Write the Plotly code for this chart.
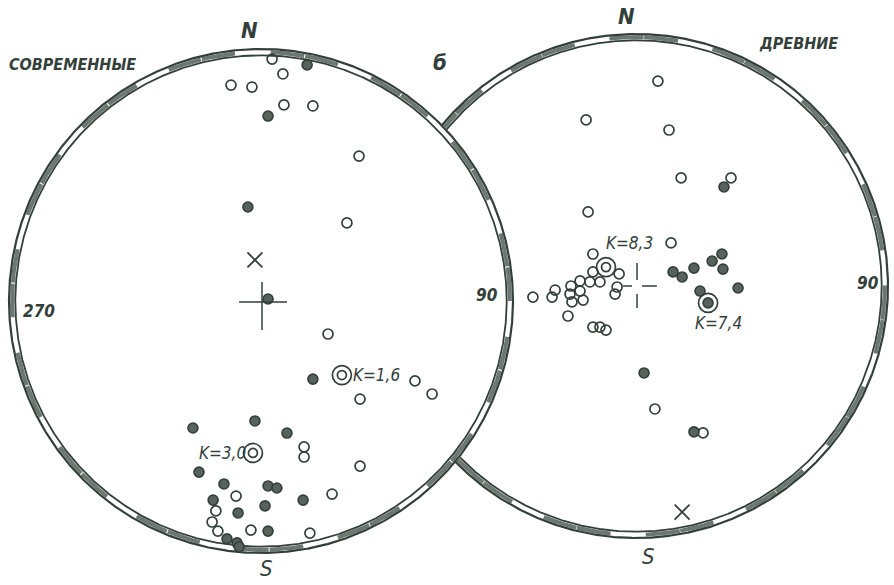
import numpy as np
import plotly.graph_objects as go

# ---------------------------------------------------------------------------
# Poles on two equal-area nets (unit radius = net primitive circle).
# "Modern" net on the left, "ancient" net on the right.
# ---------------------------------------------------------------------------

# Modern net: open circles (upper hemisphere)
modern_open_x = [0.044, 0.087, -0.119, -0.036, 0.091, 0.206, 0.389, 0.341,
                 0.266, 0.611, 0.679, 0.393, 0.171, 0.171, 0.393, -0.099,
                 0.282, -0.179, -0.194, -0.171, -0.040, 0.194]
modern_open_y = [0.960, 0.901, 0.857, 0.849, 0.778, 0.774, 0.575, 0.310,
                 -0.131, -0.317, -0.369, -0.389, -0.579, -0.619, -0.655, -0.774,
                 -0.766, -0.833, -0.877, -0.913, -0.909, -0.921]

# Modern net: filled circles (lower hemisphere)
modern_fill_x = [0.183, 0.028, -0.052, 0.028, 0.206, -0.024, -0.270, 0.103,
                 -0.246, -0.147, 0.028, 0.063, -0.190, 0.167, -0.091, 0.016,
                 0.028, -0.135, -0.095, -0.087]
modern_fill_y = [0.937, 0.734, 0.373, 0.008, -0.310, -0.476, -0.504, -0.524,
                 -0.679, -0.726, -0.734, -0.742, -0.790, -0.790, -0.841, -0.813,
                 -0.913, -0.944, -0.960, -0.975]

# Ancient net: open circles
ancient_open_x = [0.087, -0.198, 0.131, 0.179, 0.377, -0.190, 0.139,
                  -0.171, -0.171, -0.067, -0.143, -0.183, -0.222, -0.258, -0.222,
                  -0.262, -0.321, -0.333, -0.409, -0.254, -0.210, -0.270, -0.075,
                  -0.083, -0.171, -0.143, -0.119, 0.075, 0.266]
ancient_open_y = [0.813, 0.659, 0.619, 0.429, 0.429, 0.294, 0.171,
                  0.127, 0.056, 0.048, 0.016, 0.016, 0.020, 0.000, -0.020,
                  -0.032, -0.016, -0.044, -0.044, -0.063, -0.056, -0.119, -0.004,
                  -0.032, -0.163, -0.163, -0.175, -0.488, -0.583]

# Ancient net: filled circles
ancient_fill_x = [0.349, 0.147, 0.183, 0.230, 0.302, 0.341, 0.345, 0.405,
                  0.254, 0.032, 0.230]
ancient_fill_y = [0.393, 0.056, 0.036, 0.071, 0.099, 0.127, 0.067, -0.008,
                  -0.020, -0.345, -0.579]

# Mean directions with their precision parameter K
modern_mean_x = [0.321, -0.032]
modern_mean_y = [-0.294, -0.603]
modern_mean_k = ["1,6", "3,0"]
ancient_mean_x = [-0.119, 0.286]
ancient_mean_y = [0.075, -0.067]
ancient_mean_k = ["8,3", "7,4"]

# Reference direction (cross mark) on each net
modern_ref = (-0.024, 0.163)
ancient_ref = (0.183, -0.897)

# ---------------------------------------------------------------------------
INK = "#33403a"
HATCH = "#6b7770"
FONT = "Liberation Sans Narrow, DejaVu Sans Condensed, Liberation Sans, sans-serif"

W, H = 894, 585
PX = 252.0                     # pixels per net radius
C_LEFT = (261.0, 301.0)        # net centres in page pixels
C_RIGHT = (636.0, 286.0)
BOX_L, BOX_R = 260.0, 257.0

fig = go.Figure()


def rim(theta_deg, ax):
    """Double-lined primitive circle with alternating hatched segments."""
    t = np.radians(theta_deg)
    xa, ya = ("x", "y") if ax == 1 else ("x2", "y2")
    # hatched blocks between the two lines
    hx, hy = [], []
    seg = ((theta_deg - theta_deg[0]) // 8).astype(int)
    for k in np.unique(seg):
        if k % 3 != 2:
            m = seg == k
            hx += list(0.9875 * np.cos(t[m])) + [None]
            hy += list(0.9875 * np.sin(t[m])) + [None]
    fig.add_trace(go.Scatter(x=hx, y=hy, mode="lines",
                             line=dict(color=HATCH, width=4), xaxis=xa, yaxis=ya,
                             hoverinfo="skip", showlegend=False))
    for r, w in ((1.0, 2.2), (0.975, 1.8)):
        fig.add_trace(go.Scatter(x=r * np.cos(t), y=r * np.sin(t), mode="lines",
                                 line=dict(color=INK, width=w), xaxis=xa, yaxis=ya,
                                 hoverinfo="skip", showlegend=False))


# left net: full circle
rim(np.linspace(0, 360, 1441), 1)

# right net: only the arc lying outside the left net
off = np.array([(C_LEFT[0] - C_RIGHT[0]) / PX, (C_RIGHT[1] - C_LEFT[1]) / PX])
th = np.linspace(-180, 180, 2881)
tr = np.radians(th)
outside = np.hypot(np.cos(tr) - off[0], np.sin(tr) - off[1]) > 1.0
rim(th[outside], 2)


def pts(x, y, ax, filled, size=10):
    xa, ya = ("x", "y") if ax == 1 else ("x2", "y2")
    if filled:
        marker = dict(symbol="circle", size=size, color="#56625b",
                      line=dict(color=INK, width=1.6))
    else:
        marker = dict(symbol="circle-open", size=size, color=INK,
                      line=dict(color=INK, width=1.7))
    fig.add_trace(go.Scatter(x=x, y=y, mode="markers", marker=marker,
                             xaxis=xa, yaxis=ya, hoverinfo="skip", showlegend=False))


pts(modern_open_x, modern_open_y, 1, False)
pts(modern_fill_x, modern_fill_y, 1, True)
pts(ancient_open_x, ancient_open_y, 2, False)
pts(ancient_fill_x, ancient_fill_y, 2, True)

# mean directions: double circles
pts(modern_mean_x, modern_mean_y, 1, False, size=19)
pts(modern_mean_x, modern_mean_y, 1, False, size=9)
pts(ancient_mean_x, ancient_mean_y, 2, False, size=19)
pts(ancient_mean_x[:1], ancient_mean_y[:1], 2, False, size=9)
pts(ancient_mean_x[1:], ancient_mean_y[1:], 2, True, size=10)

# reference crosses
for (rx, ry), xa, ya in ((modern_ref, "x", "y"), (ancient_ref, "x2", "y2")):
    fig.add_trace(go.Scatter(x=[rx], y=[ry], mode="markers",
                             marker=dict(symbol="x-thin", size=15,
                                         line=dict(color=INK, width=1.8)),
                             xaxis=xa, yaxis=ya, hoverinfo="skip", showlegend=False))

# centre crosses
shapes = []
for x0, y0, x1, y1 in ((-0.087, -0.004, 0.103, -0.004), (0.004, 0.075, 0.004, -0.115)):
    shapes.append(dict(type="line", xref="x", yref="y", x0=x0, y0=y0, x1=x1, y1=y1,
                       line=dict(color=INK, width=1.5)))
for x0, y0, x1, y1 in ((0.004, 0.091, 0.004, 0.024), (0.004, -0.032, 0.004, -0.087),
                       (-0.052, 0.0, -0.016, 0.0), (0.024, 0.0, 0.083, 0.0)):
    shapes.append(dict(type="line", xref="x2", yref="y2", x0=x0, y0=y0, x1=x1, y1=y1,
                       line=dict(color=INK, width=1.5)))

ann = []


def to_paper(ax, x, y):
    cx, cy = C_LEFT if ax == 1 else C_RIGHT
    return (cx + x * PX) / W, (H - cy + y * PX) / H


def label(text, x, y, ax, size=16, bold=True, xanchor="center"):
    # positions are given in net units and placed on the page, so labels
    # beyond the primitive circle stay visible
    px, py = to_paper(ax, x, y)
    ann.append(dict(text=text, x=px, y=py, xref="paper", yref="paper",
                    showarrow=False, xanchor=xanchor, yanchor="middle",
                    font=dict(family=FONT, size=size, color=INK,
                              weight="bold" if bold else "normal", style="italic")))


label("СОВРЕМЕННЫЕ", -0.750, 0.940, 1, size=16)
label("N", -0.044, 1.075, 1, size=22)
label("б", 0.710, 0.945, 1, size=22)
label("270", -0.881, -0.040, 1, size=17)
label("90", 0.895, 0.024, 1, size=17)
label("S", 0.020, -1.060, 1, size=22, bold=False)
label("N", -0.036, 1.070, 2, size=22)
label("ДРЕВНИЕ", 0.643, 0.964, 2, size=16)
label("90", 0.922, 0.012, 2, size=17)
label("S", 0.048, -1.075, 2, size=22, bold=False)

label("K=" + modern_mean_k[0], modern_mean_x[0] + 0.035, modern_mean_y[0], 1,
      size=17, bold=False, xanchor="left")
label("K=" + modern_mean_k[1], modern_mean_x[1] - 0.020, modern_mean_y[1], 1,
      size=17, bold=False, xanchor="right")
label("K=" + ancient_mean_k[0], ancient_mean_x[0] + 0.095, ancient_mean_y[0] + 0.096, 2,
      size=17, bold=False)
label("K=" + ancient_mean_k[1], ancient_mean_x[1] + 0.043, ancient_mean_y[1] - 0.080, 2,
      size=17, bold=False)

ax_common = dict(visible=False, showgrid=False, zeroline=False, fixedrange=True)
fig.update_layout(
    width=W, height=H,
    margin=dict(l=0, r=0, t=0, b=0),
    paper_bgcolor="white", plot_bgcolor="rgba(0,0,0,0)",
    xaxis=dict(domain=[(C_LEFT[0] - BOX_L) / W, (C_LEFT[0] + BOX_L) / W],
               range=[-BOX_L / PX, BOX_L / PX], anchor="y", **ax_common),
    yaxis=dict(domain=[(H - C_LEFT[1] - BOX_L) / H, (H - C_LEFT[1] + BOX_L) / H],
               range=[-BOX_L / PX, BOX_L / PX], anchor="x", **ax_common),
    xaxis2=dict(domain=[(C_RIGHT[0] - BOX_R) / W, (C_RIGHT[0] + BOX_R) / W],
                range=[-BOX_R / PX, BOX_R / PX], anchor="y2", **ax_common),
    yaxis2=dict(domain=[(H - C_RIGHT[1] - BOX_R) / H, (H - C_RIGHT[1] + BOX_R) / H],
                range=[-BOX_R / PX, BOX_R / PX], anchor="x2", **ax_common),
    shapes=shapes, annotations=ann, showlegend=False,
)

fig.write_html("out.html", config=dict(displayModeBar=False))
